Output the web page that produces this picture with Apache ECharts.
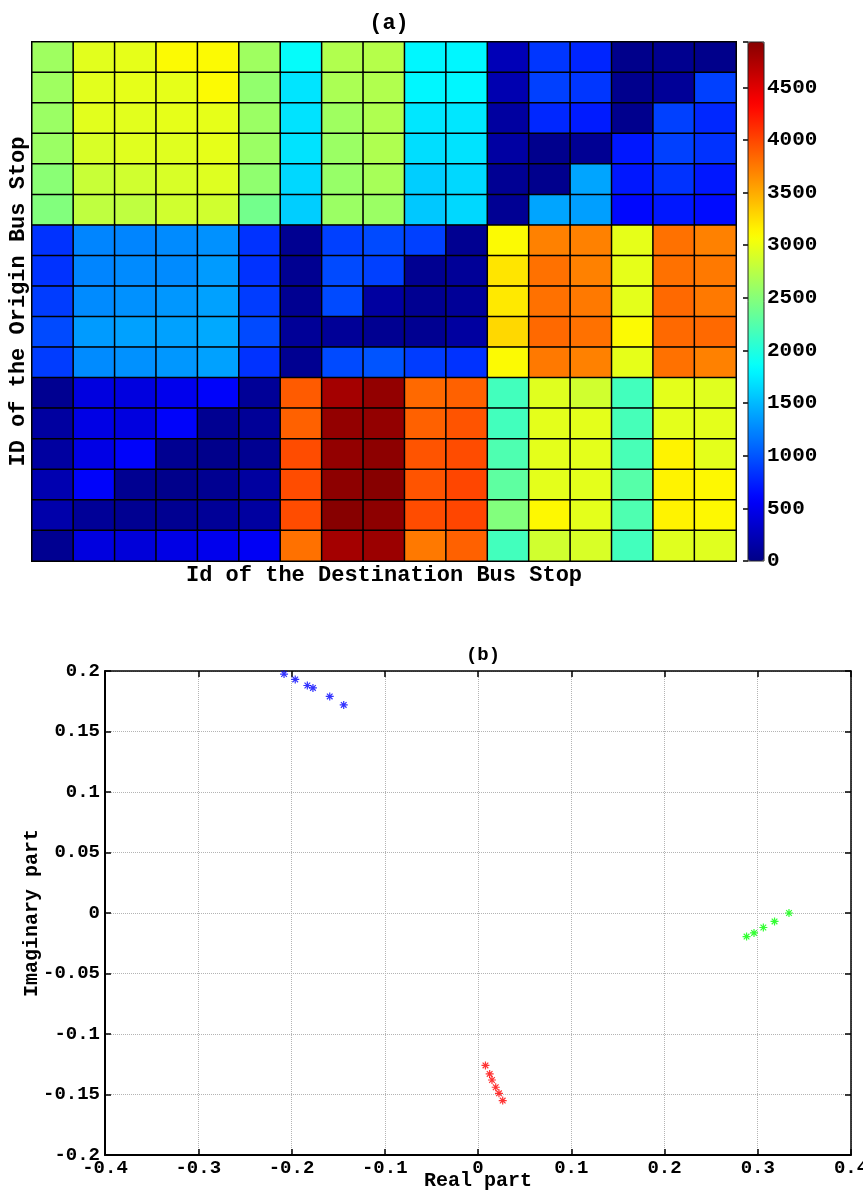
<!DOCTYPE html>
<html>
<head>
<meta charset="utf-8">
<script src="https://cdn.jsdelivr.net/npm/echarts@6/dist/echarts.min.js"></script>
<style>
  html, body { margin: 0; padding: 0; background: #fff; }
  #chart { width: 863px; height: 1191px; }
</style>
</head>
<body>
<div id="chart"></div>
<script>
const FONT = '"Liberation Mono", "Courier New", monospace';

// (a) OD matrix: rows = origin stop (top -> bottom), cols = destination stop
const stopIds = ['1','2','3','4','5','6','7','8','9','10','11','12','13','14','15','16','17'];
const odMatrix = [
  [2620,2950,2970,3100,3100,2620,1850,2710,2730,1800,1800,235,850,770,20,40,20],
  [2620,2950,2970,2970,3100,2560,1710,2680,2710,1800,1800,200,900,850,30,80,900],
  [2600,2950,2950,2970,2970,2600,1700,2620,2700,1720,1720,120,780,720,30,900,780],
  [2600,2900,2940,2940,2970,2600,1700,2600,2700,1680,1700,130,30,60,700,900,830],
  [2520,2820,2860,2900,2930,2550,1650,2580,2660,1600,1650,60,30,1400,700,830,700],
  [2480,2780,2780,2860,2860,2400,1600,2600,2600,1570,1650,60,1400,1370,620,700,640],
  [830,1240,1240,1270,1300,830,50,900,950,900,50,3100,3710,3710,2970,3790,3710],
  [830,1240,1270,1270,1350,830,50,950,900,50,80,3220,3790,3710,2970,3790,3750],
  [880,1270,1300,1330,1380,880,50,950,120,50,80,3200,3790,3750,2960,3830,3750],
  [950,1350,1380,1380,1420,950,80,80,50,50,120,3280,3830,3790,3100,3830,3830],
  [880,1270,1300,1330,1380,830,50,950,1000,880,830,3100,3750,3710,2970,3790,3710],
  [50,430,430,500,580,80,3900,4790,4870,3830,3870,2160,2940,2860,2160,2960,2940],
  [120,460,430,580,50,80,3870,4870,4870,3870,3930,2160,2960,2960,2180,2960,2960],
  [120,460,580,50,20,50,3970,4870,4900,3930,3970,2220,2960,2960,2190,3150,2960],
  [200,580,50,20,50,120,3970,4900,4930,3930,4000,2300,2960,2960,2260,3150,3120],
  [170,80,50,50,80,120,3970,4930,4900,3970,4000,2480,3120,2960,2220,3150,3120],
  [50,430,400,460,500,540,3790,4790,4830,3750,3870,2160,2860,2900,2160,2940,2940]
];
const colorMin = 0;
const colorMax = 4930;

// (b) eigenvalues
const blueRe = [-0.208, -0.196, -0.183, -0.177, -0.159, -0.144];
const blueIm = [0.1975, 0.193, 0.188, 0.186, 0.179, 0.172];
const greenRe = [0.3335, 0.318, 0.306, 0.296, 0.288];
const greenIm = [0, -0.007, -0.012, -0.0165, -0.0195];
const redRe = [0.008, 0.0125, 0.015, 0.019, 0.0225, 0.0265];
const redIm = [-0.126, -0.133, -0.138, -0.144, -0.149, -0.155];

// matlab jet, 64 levels
function jet(n) {
  const out = [];
  for (let i = 0; i < n; i++) {
    const t = (i + 0.5) / n;
    const f = (x) => Math.max(0, Math.min(1, x));
    const r = f(1.5 - Math.abs(4 * t - 3));
    const g = f(1.5 - Math.abs(4 * t - 2));
    const b = f(1.5 - Math.abs(4 * t - 1));
    out.push('rgb(' + Math.round(r * 255) + ',' + Math.round(g * 255) + ',' + Math.round(b * 255) + ')');
  }
  return out;
}

const heatData = [];
odMatrix.forEach((row, r) => row.forEach((v, c) => heatData.push([c, r, v])));

const zip = (xs, ys) => xs.map((x, i) => [x, ys[i]]);
const star = 'path://M0,8.5L20,8.5L20,11.5L0,11.5Z M8.5,0L11.5,0L11.5,20L8.5,20Z M3.99,1.87L18.13,16.01L16.01,18.13L1.87,3.99Z M1.87,16.01L16.01,1.87L18.13,3.99L3.99,18.13Z';

const lbl = (size) => ({ fontFamily: FONT, fontWeight: 'bold', fontSize: size, color: '#000' });
const black = (w) => ({ show: true, onZero: false, lineStyle: { color: '#000', width: w } });
const inTick = { inside: true, length: 6, lineStyle: { color: '#000', width: 1.5 } };
const dotted = { show: true, lineStyle: { color: '#b4b4b4', type: 'dotted', width: 1 } };

const chart = echarts.init(document.getElementById('chart'));
chart.setOption({
  animation: false,
  backgroundColor: '#fff',
  title: [
    { text: '(a)', left: 384, top: 7, textAlign: 'center', textStyle: lbl(22) },
    { text: '(b)', left: 478, top: 641, textAlign: 'center', textStyle: lbl(19) }
  ],
  grid: [
    { left: 32, top: 42, width: 704, height: 519, outerBoundsMode: 'none' },
    { left: 748, top: 42, width: 16, height: 519, show: true, z: 10, outerBoundsMode: 'none',
      backgroundColor: 'transparent', borderColor: '#222', borderWidth: 1 },
    { left: 105, top: 671, width: 746, height: 484, outerBoundsMode: 'none' }
  ],
  xAxis: [
    { gridIndex: 0, type: 'category', data: stopIds,
      name: 'Id of the Destination Bus Stop', nameLocation: 'middle', nameGap: 3, nameMoveOverlap: false,
      nameTextStyle: Object.assign(lbl(22), { verticalAlign: 'top' }),
      axisLine: black(2), axisTick: { show: false }, axisLabel: { show: false }, splitLine: { show: false } },
    { gridIndex: 1, type: 'value', min: 0, max: 1, show: false },
    { gridIndex: 2, type: 'value', min: -0.4, max: 0.4, interval: 0.1,
      name: 'Real part', nameLocation: 'middle', nameGap: 16, nameMoveOverlap: false, nameTextStyle: lbl(20),
      axisLine: black(2), axisTick: inTick,
      axisLabel: Object.assign(lbl(19), { margin: 4 }), splitLine: dotted },
    { gridIndex: 2, type: 'value', position: 'top', min: -0.4, max: 0.4, interval: 0.1,
      axisLine: black(1.5), axisTick: inTick, axisLabel: { show: false }, splitLine: { show: false } }
  ],
  yAxis: [
    { gridIndex: 0, type: 'category', data: stopIds, inverse: true,
      name: 'ID of the Origin Bus Stop', nameLocation: 'middle', nameGap: 3, nameMoveOverlap: false,
      nameTextStyle: lbl(22),
      axisLine: black(2), axisTick: { show: false }, axisLabel: { show: false }, splitLine: { show: false } },
    { gridIndex: 1, type: 'value', position: 'right', min: colorMin, max: colorMax, interval: 500,
      axisLine: { show: false },
      axisTick: { inside: true, length: 5, lineStyle: { color: '#000', width: 1.5 } },
      axisLabel: Object.assign(lbl(21), { margin: 3, formatter: (v) => (v % 500 === 0 ? String(v) : '') }),
      splitLine: { show: false } },
    { gridIndex: 2, type: 'value', min: -0.2, max: 0.2, interval: 0.05,
      name: 'Imaginary part', nameLocation: 'middle', nameGap: 63, nameMoveOverlap: false,
      nameTextStyle: lbl(20),
      axisLine: black(2), axisTick: inTick,
      axisLabel: Object.assign(lbl(19), { margin: 5 }), splitLine: dotted },
    { gridIndex: 2, type: 'value', position: 'right', min: -0.2, max: 0.2, interval: 0.05,
      axisLine: black(1.5), axisTick: inTick, axisLabel: { show: false }, splitLine: { show: false } }
  ],
  visualMap: {
    type: 'continuous', min: colorMin, max: colorMax, seriesIndex: 0, calculable: false,
    left: 748, top: 42, itemWidth: 16, itemHeight: 519, padding: 0,
    inRange: { color: jet(64) }, textStyle: { color: 'transparent' }
  },
  series: [
    { type: 'heatmap', xAxisIndex: 0, yAxisIndex: 0, data: heatData,
      itemStyle: { borderColor: '#000', borderWidth: 1.5 }, emphasis: { disabled: true } },
    { type: 'scatter', xAxisIndex: 1, yAxisIndex: 1, data: [] },
    { type: 'scatter', xAxisIndex: 2, yAxisIndex: 2, data: zip(blueRe, blueIm), clip: false,
      symbol: star, symbolSize: 8, itemStyle: { color: '#0000ff' } },
    { type: 'scatter', xAxisIndex: 2, yAxisIndex: 2, data: zip(greenRe, greenIm), clip: false,
      symbol: star, symbolSize: 8, itemStyle: { color: '#00ff00' } },
    { type: 'scatter', xAxisIndex: 2, yAxisIndex: 2, data: zip(redRe, redIm), clip: false,
      symbol: star, symbolSize: 8, itemStyle: { color: '#ff0000' } }
  ]
});
</script>
</body>
</html>
